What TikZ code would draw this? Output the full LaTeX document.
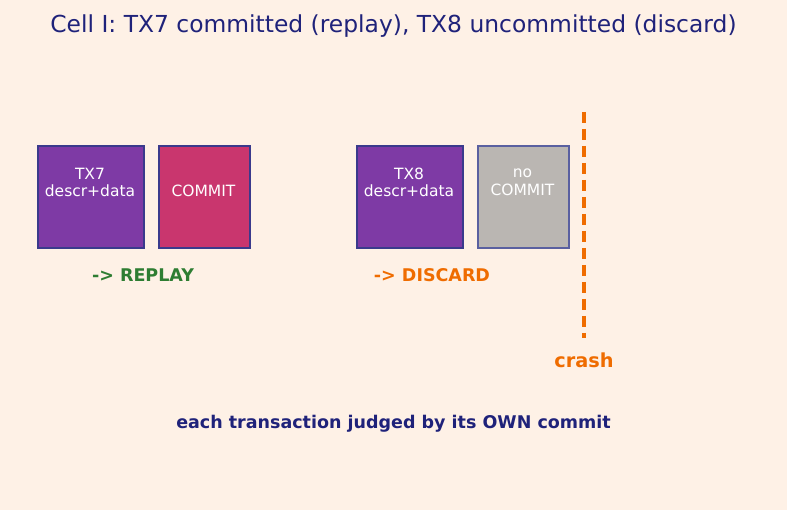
\documentclass[tikz,border=0pt]{standalone}
\usepackage{fontspec}
\setmainfont{DejaVu Sans}
\definecolor{bg}{HTML}{FEF1E6}
\definecolor{titlec}{HTML}{1F227A}
\definecolor{purp}{HTML}{7E3AA5}
\definecolor{pinkc}{HTML}{C9366E}
\definecolor{greyc}{HTML}{BAB6B2}
\definecolor{edgec}{HTML}{3A3A8C}
\definecolor{edgeg}{HTML}{5A60A0}
\definecolor{greenc}{HTML}{2E7D32}
\definecolor{orangec}{HTML}{EF6C00}
\tikzset{
  box/.style={draw=edgec, line width=1.8pt, inner sep=0pt, anchor=north west},
  boxtxt/.style={text=white, font=\fontsize{15.5}{17.5}\selectfont, align=center, inner sep=0pt},
  lbl/.style={font=\bfseries\fontsize{17.5}{20}\selectfont, inner sep=0pt}
}
\begin{document}
\begin{tikzpicture}[x=1pt,y=-1pt]
\fill[bg] (0,0) rectangle (787,510);
\useasboundingbox (0,0) rectangle (787,510);
\node[text=titlec, font=\fontsize{23.4}{27}\selectfont, inner sep=0pt] (title) at (393.5,26) {Cell I: TX7 committed (replay), TX8 uncommitted (discard)};
\node[box, fill=purp, minimum width=106pt, minimum height=102pt] (tx7) at (37,145) {};
\node[box, fill=pinkc, minimum width=91pt, minimum height=102pt] (c7) at (158,145) {};
\node[box, fill=purp, minimum width=106pt, minimum height=102pt] (tx8) at (356,145) {};
\node[box, draw=edgeg, fill=greyc, minimum width=91pt, minimum height=102pt] (c8) at (477,145) {};
\node[boxtxt] (t7) at (90,182.5) {TX7\\descr+data};
\node[boxtxt] (tc7) at (203.5,191) {COMMIT};
\node[boxtxt] (t8) at (409,182.5) {TX8\\descr+data};
\node[boxtxt] (tc8) at (522.5,182.5) {no\\COMMIT};
\node[lbl, text=greenc] (rep) at (143,275) {-> REPLAY};
\node[lbl, text=orangec] (dis) at (432,275) {-> DISCARD};
\coordinate (ctop) at (584,112);
\coordinate (cbot) at (584,338);
\draw[orangec, line width=3.5pt, dash pattern=on 11pt off 6pt] (ctop) -- (cbot);
\node[font=\bfseries\fontsize{19.3}{22}\selectfont, text=orangec, inner sep=0pt] (crash) at (584,360) {crash};
\node[lbl, text=titlec] (foot) at (393.5,424) {each transaction judged by its OWN commit};
\end{tikzpicture}
\end{document}
